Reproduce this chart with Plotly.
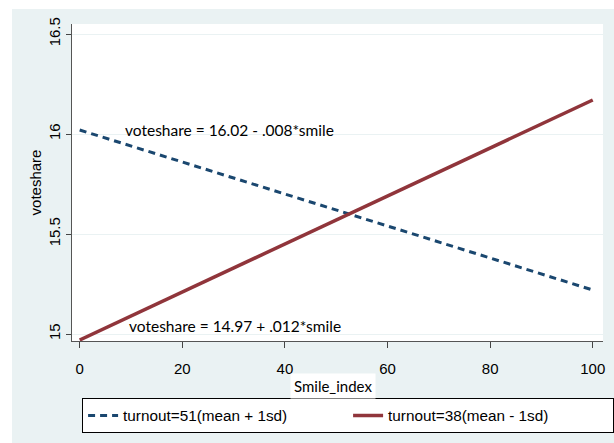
import plotly.graph_objects as go

smile = [0, 100]
turnout51 = [16.02, 15.22]
turnout38 = [14.97, 16.17]
names = ["turnout=51(mean + 1sd)", "turnout=38(mean - 1sd)"]
xticks = [0, 20, 40, 60, 80, 100]
yticks = [15, 15.5, 16, 16.5]
yticktext = ["15", "15.5", "16", "16.5"]
eq1 = "voteshare = 16.02 - .008*smile"
eq2 = "voteshare = 14.97 + .012*smile"

BG = "#eaf2f3"
AX = "Liberation Sans, Arial, sans-serif"
CAL = "Lato, sans-serif"

fig = go.Figure()
fig.add_trace(go.Scatter(x=smile, y=turnout51, mode="lines", name=names[0],
                         line=dict(color="#1a476f", width=3, dash="7px,5px")))
fig.add_trace(go.Scatter(x=smile, y=turnout38, mode="lines", name=names[1],
                         line=dict(color="#90353b", width=3.5)))

fig.update_layout(
    width=614, height=443,
    margin=dict(l=72, r=11, t=24, b=102, autoexpand=False),
    paper_bgcolor=BG, plot_bgcolor="white",
    font=dict(family=AX, size=15, color="black"),
    showlegend=True,
    legend=dict(orientation="h", x=0.019, y=-0.18, xanchor="left", yanchor="top",
                bgcolor="white", bordercolor="black", borderwidth=1,
                font=dict(family=AX, size=15.3), entrywidth=220, entrywidthmode="pixels"),
    xaxis=dict(range=[-1.5, 102], tickvals=xticks, ticks="outside", ticklen=6,
               tickcolor="#444", showline=True, linecolor="#555", linewidth=1.2,
               showgrid=False, zeroline=False, tickfont=dict(family=AX, size=15),
               ticklabelstandoff=8),
    yaxis=dict(range=[14.965, 16.55], tickvals=yticks, ticktext=yticktext,
               tickangle=-90, ticks="outside", ticklen=5, tickcolor="#444",
               showline=True, linecolor="#555", linewidth=1.2,
               showgrid=True, gridcolor=BG, gridwidth=1, zeroline=False,
               tickfont=dict(family=AX, size=15),
               title=dict(text="voteshare", font=dict(family=AX, size=15), standoff=0)),
    annotations=[
        dict(x=8.4, y=16.02, xref="x", yref="y", text=eq1, showarrow=False,
             xanchor="left", yanchor="middle", font=dict(family=CAL, size=15.5)),
        dict(x=9.2, y=15.04, xref="x", yref="y", text=eq2, showarrow=False,
             xanchor="left", yanchor="middle", font=dict(family=CAL, size=15.5)),
        dict(x=0.4915, y=-0.141, xref="paper", yref="paper", text="Smile_index",
             showarrow=False, xanchor="center", yanchor="middle", bgcolor="white",
             borderpad=3, font=dict(family=CAL, size=15)),
    ],
    shapes=[
        dict(type="rect", xref="paper", yref="paper", x0=-0.3, x1=1.3, y0=1.047, y1=1.3,
             fillcolor="white", line=dict(width=0), layer="above"),
        dict(type="rect", xref="paper", yref="paper", x0=-0.3, x1=-0.113, y0=-0.5, y1=1.3,
             fillcolor="white", line=dict(width=0), layer="above"),
    ],
)

fig.write_html("out.html")
